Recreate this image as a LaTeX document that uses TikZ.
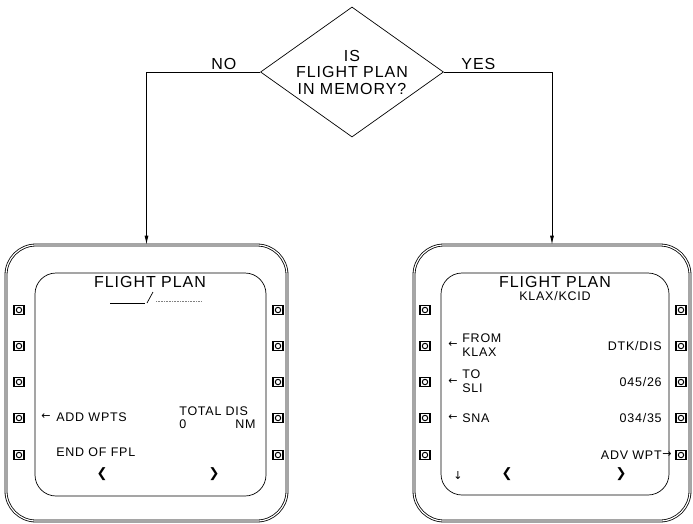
\documentclass[tikz,border=0pt]{standalone}
\usepackage{fontspec}
\newfontfamily\cdufont{Liberation Sans}[LetterSpace=6]
\newfontfamily\symfont{DejaVu Sans}
\usetikzlibrary{arrows.meta, shapes.geometric}

\tikzset{
  bigtxt/.style={font=\cdufont\fontsize{16}{16.5}\selectfont, inner sep=0pt, align=center},
  smalltxt/.style={font=\cdufont\fontsize{12.5}{14}\selectfont, inner sep=0pt},
  symtxt/.style={font=\symfont\fontsize{11}{11}\selectfont, inner sep=0pt},
  chev/.style={font=\symfont\fontsize{13}{13}\selectfont, inner sep=0pt},
  bezel/.style={draw, double, double distance=1.2pt, line width=0.8pt, rounded corners=30pt, inner sep=0pt},
  screen/.style={draw, rounded corners=21pt, inner sep=0pt},
  softkey/.style={draw, line width=1.1pt, minimum width=10pt, minimum height=9.5pt, inner sep=0pt,
    path picture={\draw[line width=1pt] (path picture bounding box.center) circle (2.7pt);}},
  flow/.style={->, line width=0.8pt}
}

\begin{document}
\begin{tikzpicture}[x=1pt, y=-1pt, >={Latex[length=9pt,width=4pt]}, line width=0.7pt]
\useasboundingbox (0,0) rectangle (693,523);

% decision
\node[draw, diamond, aspect=1.41, minimum width=183pt, minimum height=130pt, inner sep=0pt,
  bigtxt] (query) at (352,72) {IS\\FLIGHT PLAN\\IN MEMORY?};

% the two screens
\node[bezel, minimum width=281pt, minimum height=276pt] (cduL) at (146.5,383) {};
\node[screen, minimum width=231pt, minimum height=223pt] (scrL) at (150.5,384.5) {};
\node[bezel, minimum width=276pt, minimum height=276pt] (cduR) at (552,383) {};
\node[screen, minimum width=228pt, minimum height=222pt] (scrR) at (555,384) {};

\draw[flow] (query.west) -| node[pos=0.16, above=2pt, bigtxt] (no) {NO} (cduL.north);
\draw[flow] (query.east) -| node[pos=0.16, above=2pt, bigtxt] (yes) {YES} (cduR.north);

% line select keys
\foreach \y [count=\i] in {310,346,382,418,455} {
  \node[softkey] (kLl\i) at (19,\y) {};
  \node[softkey] (kLr\i) at (278,\y) {};
  \node[softkey] (kRl\i) at (425,\y) {};
  \node[softkey] (kRr\i) at (681,\y) {};
}

% empty flight plan
\node[bigtxt] (titleL) at (150,282) {FLIGHT PLAN};
\draw (110,303) -- (145,303);
\draw (147,303) -- (153,292);
\draw[gray, dash pattern=on 1pt off 0.6pt] (156,301) -- (202,301);
\node[symtxt] (arrAdd) at (46,417) {←};
\node[smalltxt, anchor=west] (addw) at (56,417) {ADD WPTS};
\node[smalltxt, anchor=west] (totdis) at (179,411) {TOTAL DIS};
\node[smalltxt, anchor=west] (zero) at (179,424) {0};
\node[smalltxt, anchor=east] (nm) at (256,424) {NM};
\node[smalltxt, anchor=west] (endfpl) at (56,452) {END OF FPL};
\node[chev] (prevL) at (102,474) {❮};
\node[chev] (nextL) at (214,474) {❯};

% stored flight plan
\node[bigtxt] (titleR) at (555,282) {FLIGHT PLAN};
\node[smalltxt] (route) at (555,296) {KLAX/KCID};
\node[symtxt] (arrFrom) at (453,345) {←};
\node[smalltxt, anchor=west, align=left] (from) at (462,345) {FROM\\KLAX};
\node[symtxt] (arrTo) at (453,382) {←};
\node[smalltxt, anchor=west, align=left] (to) at (462,381) {TO\\SLI};
\node[symtxt] (arrSna) at (453,418) {←};
\node[smalltxt, anchor=west] (sna) at (462,418) {SNA};
\node[smalltxt, anchor=east] (dtk) at (662,346) {DTK/DIS};
\node[smalltxt, anchor=east] (leg1) at (662,382) {045/26};
\node[smalltxt, anchor=east] (leg2) at (662,418) {034/35};
\node[smalltxt, anchor=east] (adv) at (662,455) {ADV WPT};
\node[symtxt, anchor=west] (arrAdv) at (adv.east) {→};
\node[symtxt] (down) at (458,475) {↓};
\node[chev] (prevR) at (507,474) {❮};
\node[chev] (nextR) at (621,474) {❯};
\end{tikzpicture}
\end{document}
